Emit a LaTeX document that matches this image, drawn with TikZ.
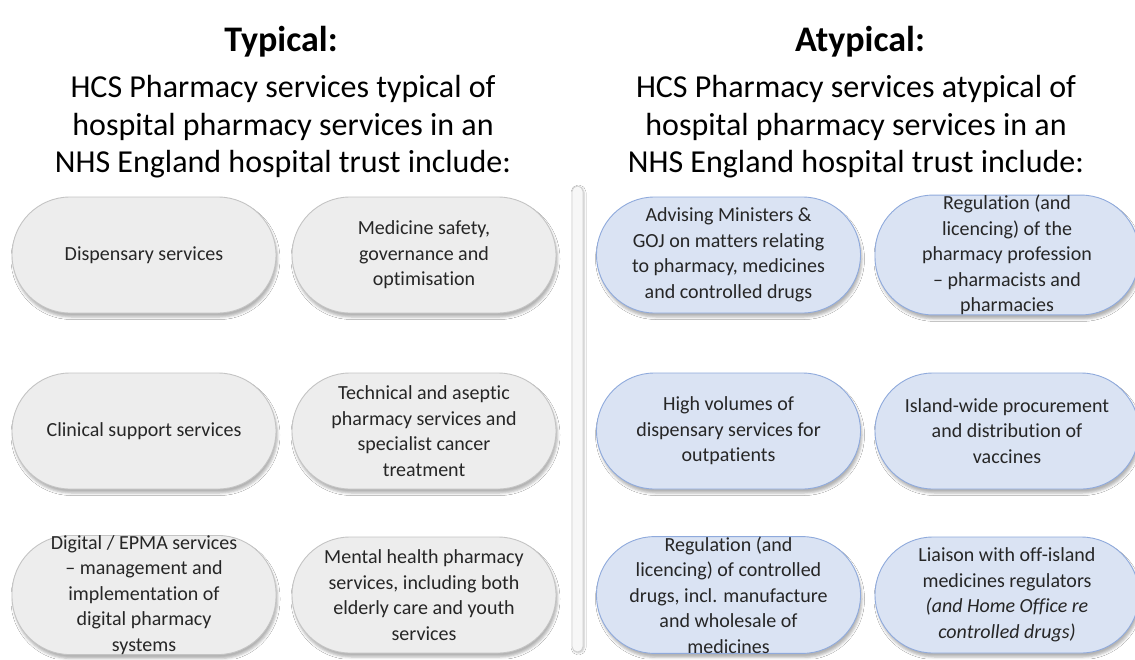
\documentclass[tikz,border=0pt]{standalone}
\usepackage{fontspec}
\setmainfont{Carlito}[Ligatures={NoCommon,NoContextual}, Contextuals={NoAlternate}]
\usetikzlibrary{shadows.blur}

% zero-width kern that keeps letter pairs such as t-i and t-t apart
\newcommand{\nolig}{\kern0pt}

\definecolor{pillgrayfill}{HTML}{EDEDED}
\definecolor{pillgrayline}{HTML}{C4C4C4}
\definecolor{pillbluefill}{HTML}{DAE3F3}
\definecolor{pillblueline}{HTML}{8FAADC}
\definecolor{pilltext}{HTML}{262626}
\definecolor{barfill}{HTML}{F7F7F7}
\definecolor{barline}{HTML}{D0D0D0}

\tikzset{
  pill/.style={rectangle, rounded corners=58pt, minimum width=264pt,
    minimum height=116pt, inner sep=0pt, align=center, line width=0.9pt,
    text=pilltext, font=\fontsize{20}{25.5}\selectfont,
    blur shadow={shadow xshift=1.5pt, shadow yshift=-4pt,
      shadow blur radius=2.5pt, shadow opacity=30}},
  typpill/.style={pill, fill=pillgrayfill, draw=pillgrayline},
  atypill/.style={pill, fill=pillbluefill, draw=pillblueline},
  headtitle/.style={align=center, font=\fontsize{36}{40}\selectfont\bfseries},
  headsub/.style={align=center, font=\fontsize{32}{37.5}\selectfont},
}

\begin{document}
\begin{tikzpicture}[x=1pt, y=-1pt]
  \useasboundingbox[fill=white] (0,0) rectangle (1135,659);

  % headings
  \node[headtitle] (ttyp) at (281,42) {Typical:};
  \node[headsub] (styp) at (283,127) {HCS Pharmacy services typical of\\
    hospital pharmacy services in an\\ NHS England hospital trust include:};
  \node[headtitle] (tatyp) at (860,42) {Atypical:};
  \node[headsub] (satyp) at (856,127) {HCS Pharmacy services atypical of\\
    hospital pharmacy services in an\\ NHS England hospital trust include:};

  % divider between the two columns
  \node[rectangle, rounded corners=5.5pt, minimum width=11pt, minimum height=466pt,
    inner sep=0pt, fill=barfill, draw=barline, line width=0.8pt,
    blur shadow={shadow xshift=1pt, shadow yshift=-1pt, shadow blur radius=2pt,
      shadow opacity=25}] (divider) at (577.5,419) {};

  % typical services
  \node[typpill] (t11) at (144,255) {Dispensary services};
  \node[typpill] (t12) at (424,255) {Medicine safety,\\ governance and\\ opt\nolig imisat\nolig ion};
  \node[typpill] (t21) at (144,431) {Clinical support services};
  \node[typpill] (t22) at (424,431) {Technical and asept\nolig ic\\ pharmacy services and\\
    specialist cancer\\ treatment};
  \node[typpill] (t31) at (144,595) {Digital / EPMA services\\ – management and\\
    implementat\nolig ion of\\ digital pharmacy\\ systems};
  \node[typpill] (t32) at (424,595) {Mental health pharmacy\\ services, including both\\
    elderly care and youth\\ services};

  % atypical services
  \node[atypill] (a11) at (728.5,255) {Advising Ministers \&\\ GOJ on mat\nolig ters relat\nolig ing\\
    to pharmacy, medicines\\ and controlled drugs};
  \node[atypill] (a12) at (1007,255) {Regulation (and\\ licencing) of the\\
    pharmacy profession\\ – pharmacists and\\ pharmacies};
  \node[atypill] (a21) at (728.5,431) {High volumes of\\ dispensary services for\\ outpat\nolig ients};
  \node[atypill] (a22) at (1007,431) {Island-wide procurement\\ and distribut\nolig ion of\\ vaccines};
  \node[atypill] (a31) at (728.5,595) {Regulat\nolig ion (and\\ licencing) of controlled\\
    drugs, incl. manufacture\\ and wholesale of\\ medicines};
  \node[atypill] (a32) at (1007,595) {Liaison with of\nolig f-island\\ medicines regulators\\
    \textit{(and Home Of\nolig f\nolig ice re}\\ \textit{controlled drugs)}};
\end{tikzpicture}
\end{document}
